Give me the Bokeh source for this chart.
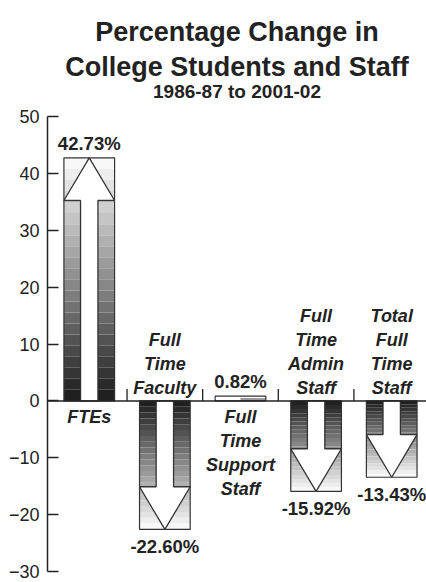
from bokeh.plotting import figure
from bokeh.models import Range1d, FixedTicker, Span
from bokeh.embed import file_html
from bokeh.resources import INLINE
from bokeh.core.properties import value

# ---- data ----
categories = ["FTEs", "Full\nTime\nFaculty", "Full\nTime\nSupport\nStaff",
              "Full\nTime\nAdmin\nStaff", "Total\nFull\nTime\nStaff"]
changes = [42.73, -22.60, 0.82, -15.92, -13.43]
value_labels = ["42.73%", "-22.60%", "0.82%", "-15.92%", "-13.43%"]
y_ticks = [-30, -20, -10, 0, 10, 20, 30, 40, 50]
title_lines = ["Percentage Change in", "College Students and Staff"]
subtitle = "1986-87 to 2001-02"

# ---- style ----
FONT = value("Liberation Sans")
INK = "#222222"
BAR_HALF = 0.335
SHAFT_HALF = 0.115
HEAD_LEN = 7.5
N_STRIPES = 22
DARK, LIGHT = 32, 248
X0, X1 = -0.052, 4.96
Y_MIN, Y_MAX = -30, 50
Y_TOP = 70.4          # extra head-room above the axis for the title block

p = figure(width=426, height=582, output_backend="svg", toolbar_location=None,
           x_range=Range1d(X0, X1), y_range=Range1d(Y_MIN, Y_TOP),
           min_border_left=47, min_border_right=0, min_border_top=0,
           min_border_bottom=11, outline_line_color=None, title=None)
p.xaxis.visible = False
p.xgrid.visible = False
p.ygrid.visible = False

ax = p.yaxis[0]
ax.bounds = (Y_MIN, Y_MAX)
ax.ticker = FixedTicker(ticks=y_ticks)
ax.major_tick_in = 11
ax.major_tick_out = 0
ax.minor_tick_line_color = None
ax.axis_line_width = 1.5
ax.axis_line_color = INK
ax.major_tick_line_width = 1.5
ax.major_tick_line_color = INK
ax.major_label_text_font = "Liberation Sans"
ax.major_label_text_font_size = "18px"
ax.major_label_text_color = INK
ax.major_label_standoff = 8

centers = [i + 0.5 for i in range(len(categories))]

# gradient stripes
sl, sr, sb, st, sc = [], [], [], [], []
for c, v in zip(centers, changes):
    if abs(v) < HEAD_LEN:
        continue
    for k in range(N_STRIPES):
        g = int(round(DARK + (LIGHT - DARK) * k / (N_STRIPES - 1)))
        sl.append(c - BAR_HALF); sr.append(c + BAR_HALF)
        sb.append(v * k / N_STRIPES); st.append(v * (k + 1) / N_STRIPES)
        sc.append("#%02x%02x%02x" % (g, g, g))
p.quad(left=sl, right=sr, bottom=sb, top=st, fill_color=sc, line_color=None)

# small bar (too short for an arrow)
small = [(c, v) for c, v in zip(centers, changes) if abs(v) < HEAD_LEN]
p.quad(left=[c - BAR_HALF for c, v in small], right=[c + BAR_HALF for c, v in small],
       bottom=[0] * len(small), top=[v for c, v in small], fill_color="white", line_color=None)
p.quad(left=[c for c, v in small], right=[c + BAR_HALF for c, v in small],
       bottom=[0] * len(small), top=[v * 0.6 for c, v in small], fill_color="#999999", line_color=None)

# bar outlines
p.quad(left=[c - BAR_HALF for c in centers], right=[c + BAR_HALF for c in centers],
       bottom=[0] * len(centers), top=changes, fill_color=None,
       line_color="#333333", line_width=1.2)

# arrows
axs, ays = [], []
for c, v in zip(centers, changes):
    if abs(v) < HEAD_LEN:
        continue
    s = 1 if v > 0 else -1
    hb = v - s * HEAD_LEN
    axs.append([c - SHAFT_HALF, c - SHAFT_HALF, c - BAR_HALF, c, c + BAR_HALF, c + SHAFT_HALF, c + SHAFT_HALF])
    ays.append([0, hb, hb, v, hb, hb, 0])
p.patches(axs, ays, fill_color="white", line_color="#333333", line_width=1.3)

# zero line and category separators
p.add_layout(Span(location=0, dimension="width", line_color=INK, line_width=1.5))
seps = [i for i in range(1, len(categories))]
p.segment(x0=seps, x1=seps, y0=[0] * len(seps), y1=[2.1] * len(seps),
          line_color=INK, line_width=1.3)

# value labels
pos = [i for i, v in enumerate(changes) if v >= 0]
neg = [i for i, v in enumerate(changes) if v < 0]
p.text(x=[centers[i] for i in pos], y=[changes[i] for i in pos],
       text=[value_labels[i] for i in pos], text_font=FONT, text_font_style="bold",
       text_font_size="18.5px", text_color=INK, text_align="center",
       text_baseline="bottom", y_offset=-4)
p.text(x=[centers[i] for i in neg], y=[changes[i] for i in neg],
       text=[value_labels[i] for i in neg], text_font=FONT, text_font_style="bold",
       text_font_size="18.5px", text_color=INK, text_align="center",
       text_baseline="top", y_offset=7)

# category labels
p.text(x=[centers[i] for i in pos], y=[0] * len(pos),
       text=[categories[i] for i in pos], text_font=FONT, text_font_style="bold italic",
       text_font_size="18px", text_color=INK, text_align="center",
       text_baseline="top", y_offset=6, text_line_height=1.2)
p.text(x=[centers[i] for i in neg], y=[0] * len(neg),
       text=[categories[i] for i in neg], text_font=FONT, text_font_style="bold italic",
       text_font_size="18px", text_color=INK, text_align="center",
       text_baseline="bottom", y_offset=-3, text_line_height=1.2)

# title block (in the head-room above the axis)
xm = (X0 + X1) / 2
p.text(x=[xm, xm], y=[64.83, 58.67], text=title_lines, text_font=FONT,
       text_font_style="bold", text_font_size="27px", text_color=INK,
       text_align="center", text_baseline="alphabetic")
p.text(x=[xm], y=[54.4], text=[subtitle], text_font=FONT,
       text_font_style="bold", text_font_size="19px", text_color=INK,
       text_align="center", text_baseline="alphabetic")

open("out.html", "w").write(file_html(p, INLINE))
